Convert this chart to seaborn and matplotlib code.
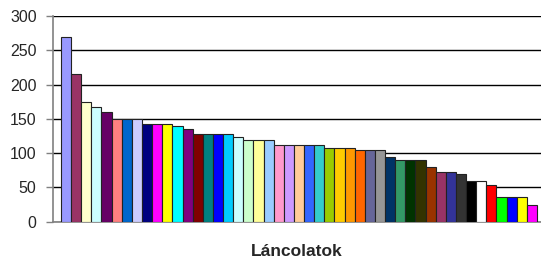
import numpy as np
import pandas as pd
import matplotlib
matplotlib.use("Agg")
import matplotlib.pyplot as plt
import seaborn as sns

# Adatok
lancolatok = [f"L{i}" for i in range(1, 48)]
ertekek = [270, 215, 174, 167, 160, 150, 150, 150, 143, 143, 143, 139, 135,
           128, 128, 128, 128, 124, 119, 119, 119, 112, 112, 112, 112, 112,
           108, 108, 108, 105, 105, 105, 95, 90, 90, 90, 80, 72, 72, 69,
           59, 59, 54, 36, 36, 36, 24]
szinek = ["#9999FF", "#993366", "#FFFFCC", "#CCFFFF", "#660066", "#FF8080",
          "#0066CC", "#CCCCFF", "#000080", "#FF00FF", "#FFFF00", "#00FFFF",
          "#800080", "#800000", "#008080", "#0000FF", "#00CCFF", "#CCFFFF",
          "#CCFFCC", "#FFFF99", "#99CCFF", "#FF99CC", "#CC99FF", "#FFCC99",
          "#3366FF", "#33CCCC", "#99CC00", "#FFCC00", "#FF9900", "#FF6600",
          "#666699", "#969696", "#003366", "#339966", "#003300", "#333300",
          "#993300", "#993366", "#333399", "#333333", "#000000", "#FFFFFF",
          "#FF0000", "#00FF00", "#0000FF", "#FFFF00", "#FF00FF"]
y_ticks = [0, 50, 100, 150, 200, 250, 300]

sns.set_style("white")
plt.rcParams['font.family'] = ['Liberation Sans', 'DejaVu Sans']

df = pd.DataFrame({'lanc': lancolatok, 'ertek': ertekek})

fig = plt.figure(figsize=(5.41, 2.62), dpi=100)
ax = fig.add_axes([0.0985, 0.1538, 0.9015, 0.7851])

sns.barplot(data=df, x='lanc', y='ertek', hue='lanc', palette=szinek,
            dodge=False, legend=False, width=1.0, edgecolor='#222222',
            linewidth=0.8, saturation=1, ax=ax, zorder=3)

ax.set_ylim(0, 300)
ax.set_xlim(-1.26, 46.9)
ax.set_yticks(y_ticks)
ax.set_yticklabels([str(t) for t in y_ticks], fontsize=11.5)
ax.set_xticks([])
ax.yaxis.grid(True, color='black', linewidth=1)
ax.set_axisbelow(True)
ax.tick_params(axis='y', direction='out', length=5, width=1, color='#808080',
               pad=7, left=True)
for s in ['top', 'right']:
    ax.spines[s].set_visible(False)
for s in ['left', 'bottom']:
    ax.spines[s].set_color('#808080')
    ax.spines[s].set_linewidth(1.2)
ax.set_ylabel('')
ax.set_xlabel('Láncolatok', fontsize=12.5, fontweight='bold', labelpad=16)

fig.savefig('out.png', dpi=100)
